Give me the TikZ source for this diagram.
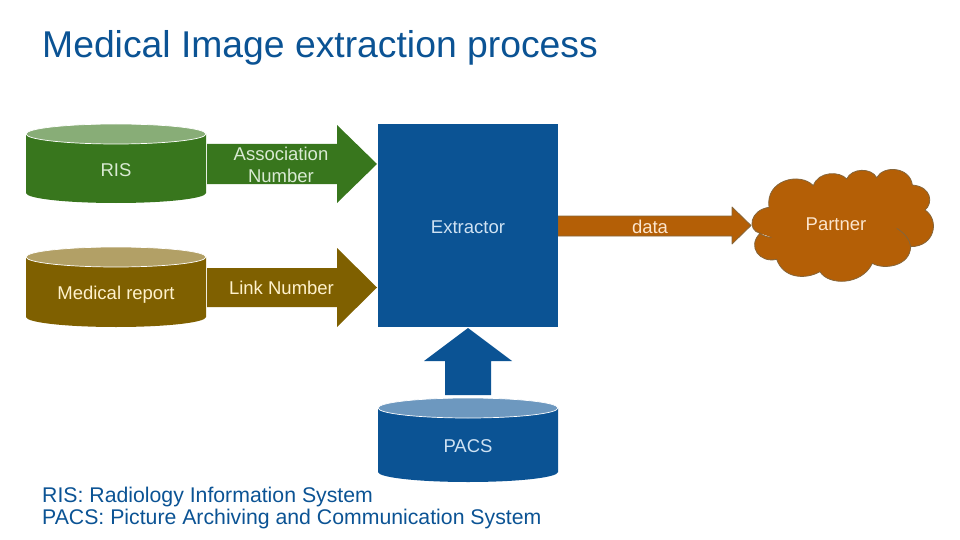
\documentclass[tikz,border=0pt]{standalone}
\usepackage{fontspec}
\setmainfont{Liberation Sans}
\definecolor{risgreen}{HTML}{38761D}
\definecolor{repbrown}{HTML}{7F6000}
\definecolor{partorange}{HTML}{B45F06}
\definecolor{partedge}{HTML}{85653A}
\definecolor{medblue}{HTML}{0B5394}
\definecolor{rislight}{HTML}{D9EAD3}
\definecolor{replight}{HTML}{FFF2CC}
\definecolor{partlight}{HTML}{FCE5CD}
\definecolor{medlight}{HTML}{CFE2F3}
\begin{document}
\begin{tikzpicture}[x=1pt,y=-1pt,line join=round,
	label/.style={inner sep=0pt,font=\fontsize{18.5}{22}\selectfont},
	note/.style={text=medblue,inner sep=0pt,anchor=base west,font=\fontsize{21.25}{24}\selectfont}]
	\useasboundingbox (0,0) rectangle (960,540);
	\def\a{90} % half width of a cylinder
	\def\b{10} % half height of its top
	% cylinders
	\foreach \x/\y/\h/\c in {116/134/59/risgreen,116/257/60/repbrown,468/408/64/medblue}{
	\begin{scope}[shift={(\x,\y)}]
	\fill[\c] (-\a,0)--(-\a,\h) arc(180:0:{\a} and {\b})--(\a,0)--cycle;
	\draw[white,fill=\c!60!white,line width=.7pt] (0,0) ellipse ({\a} and {\b});
	\end{scope}
	}
	% block arrows
	\fill[risgreen] (207,144)--(337,144)--(337,125)--(377,164)--(337,203)--(337,184)--(207,184)--cycle;
	\fill[repbrown] (207,268)--(337,268)--(337,248)--(377,287.5)--(337,327)--(337,307)--(207,307)--cycle;
	\fill[medblue] (445,395)--(445,361)--(424,361)--(468,328)--(512,361)--(491,361)--(491,395)--cycle;
	\filldraw[fill=partorange,draw=partedge,line width=.8pt]
	(558,216)--(732,216)--(732,207)--(751,225.5)--(732,244)--(732,236)--(558,236)--cycle;
	\fill[medblue] (378,124) rectangle (558,327);
	% cloud
	\begin{scope}[shift={(745,165)},scale=1/3]
	\filldraw[fill=partorange,draw=partedge,line width=.8pt]
	(45,205) .. controls (5,195) and (15,135) .. (72,127)
	.. controls (60,45) and (165,20) .. (205,62)
	.. controls (220,18) and (285,18) .. (305,42)
	.. controls (320,8) and (380,8) .. (395,38)
	.. controls (415,0) and (495,5) .. (502,60)
	.. controls (560,65) and (565,115) .. (540,135)
	.. controls (585,165) and (570,245) .. (497,245)
	.. controls (495,305) and (415,315) .. (382,295)
	.. controls (350,362) and (250,362) .. (225,320)
	.. controls (180,345) and (115,340) .. (95,283)
	.. controls (45,295) and (5,245) .. (45,205)
	.. controls (55,213) and (70,217) .. (80,217);
	\draw[partedge,line width=.8pt] (455,190) .. controls (480,205) and (495,225) .. (497,245);
	\end{scope}
	% texts
	\node[text=medblue,inner sep=0pt,anchor=base west,font=\fontsize{37.3}{44}\selectfont] (title) at (42,57.5) {Medical Image extraction process};
	\node[label,text=rislight,anchor=base] (ris) at (116,176) {RIS};
	\node[label,text=replight,anchor=base] (report) at (116,299) {Medical report};
	\node[label,text=medlight,anchor=base] (pacs) at (468,452) {PACS};
	\node[label,text=medlight,anchor=base] (extractor) at (468,233) {Extractor};
	\node[label,text=rislight,align=center] (assoc) at (281,165) {Association\\Number};
	\node[label,text=replight,anchor=base] (link) at (281.5,294) {Link Number};
	\node[label,text=partlight,anchor=base] (data) at (650,233) {data};
	\node[label,text=partlight,anchor=base] (partner) at (836,230) {Partner};
	\node[note] (noteris) at (42,502) {RIS: Radiology Information System};
	\node[note] (notepacs) at (42,524.5) {PACS: Picture Archiving and Communication System};
\end{tikzpicture}
\end{document}
